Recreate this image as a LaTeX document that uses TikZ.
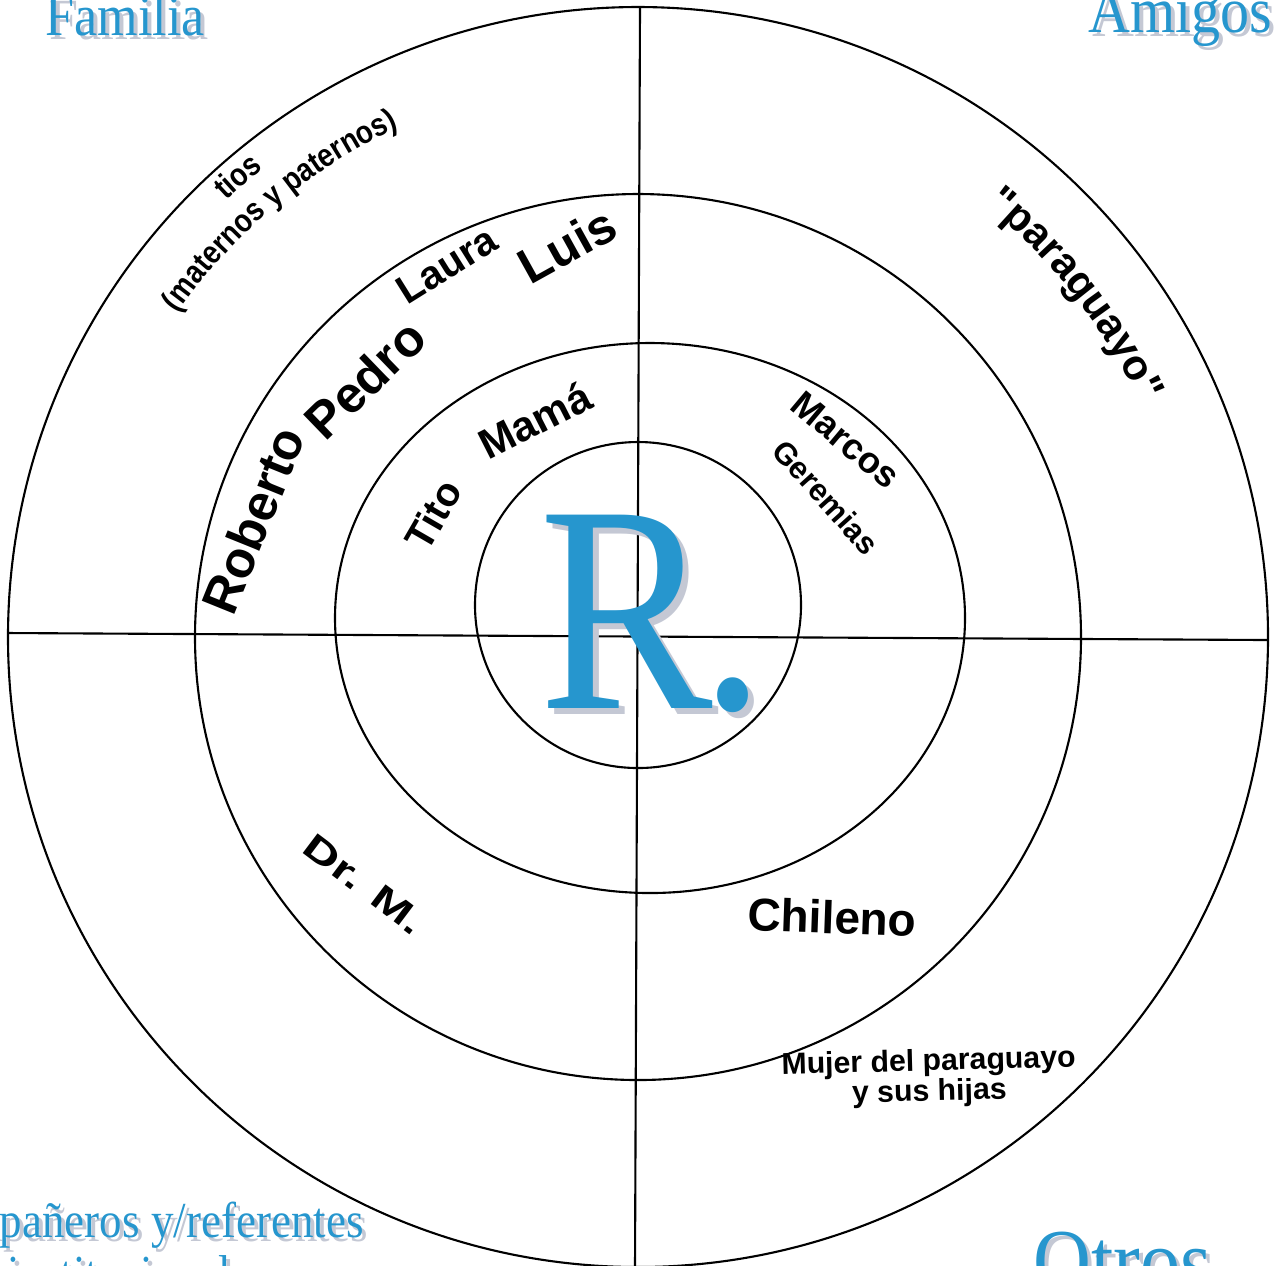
\documentclass[tikz,border=0pt]{standalone}
\usepackage{fontspec}
\setmainfont{Liberation Serif}
\setsansfont{Liberation Sans}
\newfontfamily\narrowsans[FakeStretch=0.86]{Liberation Sans}
\newfontfamily\quotesans[Ligatures=TeXOff]{Liberation Sans}
\usepackage{tikz}
\usetikzlibrary{decorations.text}
\definecolor{rblue}{RGB}{38,150,206}
\definecolor{rshadow}{RGB}{196,200,212}
\tikzset{
  ring/.style={line width=0.6pt},
  person/.style={font=\sffamily\bfseries\fontsize{#1}{#1}\selectfont, inner sep=0pt},
  title/.style={font=\rmfamily\fontsize{#1}{#1}\selectfont, text=rblue, inner sep=0pt, anchor=base west, yscale=1.12},
  titleshadow/.style={title=#1, text=rshadow},
}

\begin{document}
\begin{tikzpicture}[x=0.01cm, y=0.01cm]
      \useasboundingbox (0,0) rectangle (1276,-1265);
      \clip (0,0) rectangle (1276,-1265);
      \coordinate (c) at (638,-637);
      \draw[ring] (c) circle[radius=630];
      \draw[ring] (c) circle[radius=443];
      \draw[ring] (650,-618) ellipse[x radius=315, y radius=275];
      \draw[ring] (638,-605) circle[radius=163];
      \coordinate (vtop) at (640,-7);
      \coordinate (vbot) at (635,-1268);
      \coordinate (hleft) at (8,-633);
      \coordinate (hright) at (1268,-640);
      \draw[ring] (vtop) -- (vbot);
      \draw[ring] (hleft) -- (hright);
      \node[titleshadow=14.8pt] (familia-sh) at (49,-39) {Familia};
      \node[title=14.8pt] (familia) at (45,-35) {Familia};
      \node[titleshadow=16.5pt] (amigos-sh) at (1092,-36) {Amigos};
      \node[title=16.5pt] (amigos) at (1088,-32) {Amigos};
      \node[titleshadow=12.8pt, anchor=base] (comp-sh) at (142,-1241) {Compañeros y/referentes};
      \node[title=12.8pt, anchor=base] (comp) at (138,-1237) {Compañeros y/referentes};
      \node[titleshadow=12.8pt, anchor=base] (inst-sh) at (142,-1294) {institucionales};
      \node[title=12.8pt, anchor=base] (inst) at (138,-1290) {institucionales};
      \node[titleshadow=22.8pt] (otros-sh) at (1037,-1295) {Otros};
      \node[title=22.8pt] (otros) at (1033,-1291) {Otros};
      \path[decorate, decoration={text along path, text align=center, text={|\narrowsans\bfseries\fontsize{9.2}{9.2}\selectfont|tios}}] (c) ++(146:600) arc[start angle=146, end angle=116, radius=600];
      \path[decorate, decoration={text along path, text align=center, text={|\narrowsans\bfseries\fontsize{9.2}{9.2}\selectfont|(maternos y paternos)}}] (c) ++(150:563) arc[start angle=150, end angle=110, radius=563];
      \path[decorate, decoration={text along path, text align=center, text={|\quotesans\bfseries\fontsize{12}{12}\selectfont|"paraguayo"}}] (c) ++(58:554) arc[start angle=58, end angle=18, radius=554];
      \node[person=14.5pt, rotate=68] (roberto) at (253,-520) {Roberto};
      \node[person=14.5pt, rotate=44] (pedro) at (365,-379) {Pedro};
      \node[person=11.4pt, rotate=32] (laura) at (447,-265) {Laura};
      \node[person=14.2pt, rotate=29] (luis) at (567,-245) {Luis};
      \node[person=11.4pt, rotate=60] (tito) at (433,-515) {Tito};
      \node[person=12pt, rotate=27] (mama) at (535,-420) {Mamá};
      \node[person=10.4pt, rotate=-40] (marcos) at (846,-440) {Marcos};
      \node[person=8.8pt, rotate=-48] (geremias) at (826,-497) {Geremias};
      \node[person=10.2pt, rotate=-37, xscale=1.4] (drm) at (364,-884) {Dr. M.};
      \node[person=13.1pt, rotate=-2] (chileno) at (832,-917) {Chileno};
      \node[person=8.6pt, rotate=1.5, align=center] (mujer) at (929,-1078) {Mujer del paraguayo\\y sus hijas};
      \node[inner sep=0pt, text=rshadow, font=\rmfamily\fontsize{74}{74}\selectfont, yscale=1.135, anchor=base west] (r-sh) at (545,-714) {R\kern-0.05em.};
      \node[inner sep=0pt, text=rblue, font=\rmfamily\fontsize{74}{74}\selectfont, yscale=1.135, anchor=base west] (r) at (539,-708) {R\kern-0.05em.};
  \end{tikzpicture}
\end{document}
